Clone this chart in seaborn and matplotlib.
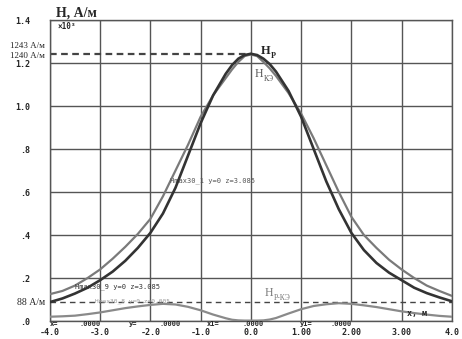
import matplotlib
matplotlib.use("Agg")
import matplotlib.pyplot as plt
import seaborn as sns
import pandas as pd

# Field strength along x (values in units of 10^3 A/m)
x_pos = [-4.0, -3.75, -3.5, -3.25, -3.0, -2.75, -2.5, -2.25, -2.0, -1.75, -1.5, -1.25,
         -1.0, -0.75, -0.5, -0.375, -0.25, -0.125, 0.0, 0.125, 0.25, 0.375, 0.5, 0.75,
         1.0, 1.25, 1.5, 1.75, 2.0, 2.25, 2.5, 2.75, 3.0, 3.25, 3.5, 3.75, 4.0]
h_p = [0.088, 0.105, 0.128, 0.155, 0.19, 0.23, 0.28, 0.34, 0.41, 0.50, 0.62, 0.77,
       0.92, 1.05, 1.15, 1.19, 1.22, 1.237, 1.243, 1.237, 1.22, 1.195, 1.16, 1.07,
       0.95, 0.80, 0.65, 0.52, 0.41, 0.33, 0.27, 0.225, 0.19, 0.155, 0.13, 0.11, 0.092]
h_ke = [0.125, 0.14, 0.165, 0.20, 0.24, 0.29, 0.345, 0.405, 0.475, 0.58, 0.70, 0.82,
        0.95, 1.05, 1.13, 1.17, 1.205, 1.232, 1.240, 1.232, 1.205, 1.175, 1.14, 1.06,
        0.965, 0.85, 0.725, 0.60, 0.485, 0.40, 0.34, 0.285, 0.24, 0.20, 0.165, 0.14, 0.117]
h_diff = [0.02, 0.022, 0.025, 0.032, 0.04, 0.05, 0.06, 0.068, 0.075, 0.08, 0.077, 0.066,
          0.05, 0.03, 0.013, 0.006, 0.003, 0.002, 0.002, 0.002, 0.003, 0.007, 0.014, 0.035,
          0.055, 0.07, 0.078, 0.083, 0.08, 0.073, 0.065, 0.055, 0.045, 0.037, 0.03, 0.024, 0.02]

hp_max = 1.243
h_ref = 0.088

y_ticks = [0.0, 0.2, 0.4, 0.6, 0.8, 1.0, 1.2, 1.4]
y_labels = [".0", ".2", ".4", ".6", ".8", "1.0", "1.2", "1.4"]
x_ticks = [-4, -3, -2, -1, 0, 1, 2, 3, 4]
x_labels = ["-4.0", "-3.0", "-2.0", "-1.0", "0.0", "1.00", "2.00", "3.00", "4.0"]

# coordinate readout printed along the bottom axis
readout_x = [-4.0, -3.2, -2.35, -1.6, -0.75, 0.05, 1.1, 1.8]
readout_txt = ["x=", ".0000", "y=", ".0000", "x1=", ".0000", "y1=", ".0000"]

df = pd.DataFrame({"x": x_pos, "Hp": h_p, "Hke": h_ke, "Hdiff": h_diff})

sns.set_style("white")
plt.rcParams["font.family"] = ["DejaVu Sans"]

fig = plt.figure(figsize=(4.62, 3.39), dpi=100)
ax = fig.add_axes([0.108, 0.053, 0.870, 0.888])

mono = dict(family="DejaVu Sans Mono", fontweight="bold")
serif = dict(family="Liberation Serif")

# grid
for xv in x_ticks:
    ax.axvline(xv, color="#555555", lw=1.0, zorder=1)
for yv in y_ticks:
    ax.axhline(yv, color="#555555", lw=1.0, zorder=1)

# reference dashed lines
ax.plot([-4, 0], [hp_max, hp_max], color="#444444", lw=1.6, ls=(0, (3, 2)), zorder=2)
ax.axhline(h_ref, color="#444444", lw=1.0, ls=(0, (4, 3)), zorder=2)

sns.lineplot(data=df, x="x", y="Hke", color="#7a7a7a", lw=1.6, ax=ax, zorder=3)
sns.lineplot(data=df, x="x", y="Hp", color="#333333", lw=1.9, ax=ax, zorder=4)
sns.lineplot(data=df, x="x", y="Hdiff", color="#8a8a8a", lw=1.6, ax=ax, zorder=3)

ax.set_xlim(-4, 4)
ax.set_ylim(0, 1.4)
ax.set_xticks(x_ticks)
ax.set_xticklabels(x_labels, fontsize=6, **mono)
ax.set_yticks(y_ticks)
ax.set_yticklabels(y_labels, fontsize=6, **mono)
ax.tick_params(axis="x", length=0, pad=5)
ax.tick_params(axis="y", length=0, pad=14)
ax.set_xlabel("")
ax.set_ylabel("")
for s in ax.spines.values():
    s.set_color("#555555")
    s.set_linewidth(1.0)


def sub_label(x, y, main, sub, size, color, weight="normal"):
    t = ax.annotate(main, (x, y), fontsize=size, color=color, fontweight=weight,
                    va="center", family="Liberation Serif")
    ax.annotate(sub, xy=(1, 0), xycoords=t, xytext=(0.3, 0.5), textcoords="offset points",
                fontsize=size * 0.65, color=color, fontweight=weight, va="center",
                family="Liberation Serif")


# annotations
fig.text(0.165, 0.962, "Н, А/м", fontsize=10, fontweight="bold", ha="center", va="center", **serif)
ax.text(-3.85, 1.37, "×10³", fontsize=5.5, va="center", **mono)
ax.text(-4.1, 1.277, "1243 А/м", fontsize=6.5, ha="right", va="center", **serif)
ax.text(-4.1, 1.232, "1240 А/м", fontsize=6.5, ha="right", va="center", **serif)
ax.text(-4.1, h_ref, "88 А/м", fontsize=7, ha="right", va="center", **serif)
sub_label(0.2, 1.255, "H", "Р", 9, "#222222", "bold")
sub_label(0.08, 1.15, "H", "КЭ", 8.5, "#555555")
sub_label(0.28, 0.13, "H", "Р-КЭ", 8.5, "#777777")
ax.text(-1.6, 0.655, "Hmax30_1 y=0 z=3.085", fontsize=5, color="#555555", va="center",
        family="DejaVu Sans Mono")
ax.text(-3.5, 0.158, "Hmax30_9 y=0 z=3.085", fontsize=5, color="#333333", va="center",
        family="DejaVu Sans Mono")
ax.text(-3.1, 0.09, "Hmax30_8 y=0 z=0.005", fontsize=4.5, color="#999999", va="center",
        family="DejaVu Sans Mono")
ax.text(3.1, 0.035, "x, м", fontsize=6, va="center", **mono)

for xv, txt in zip(readout_x, readout_txt):
    ax.text(xv, -0.012, txt, fontsize=5, ha="center" if xv > -4 else "left",
            va="center", **mono)

fig.savefig("out.png", dpi=100, facecolor="white")
